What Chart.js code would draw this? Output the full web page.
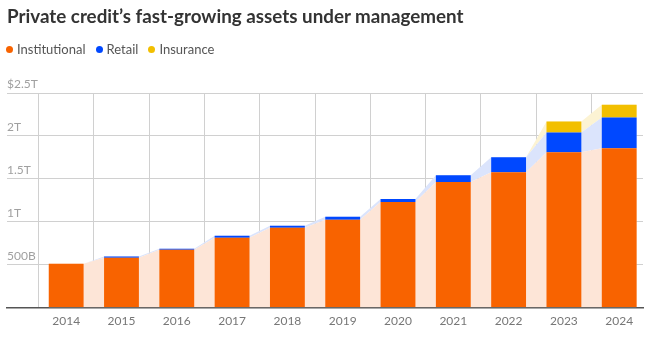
<!DOCTYPE html>
<html>
<head>
<meta charset="utf-8">
<title>Private credit assets under management</title>
<script src="https://cdn.jsdelivr.net/npm/chart.js@4.4.1/dist/chart.umd.min.js"></script>
<style>
  html, body { margin: 0; padding: 0; background: #fff; }
  #wrap { position: relative; width: 651px; height: 339px; font-family: Lato, "Noto Sans", sans-serif; }
  #aumChart { position: absolute; left: 0; top: 0; }
  .title {
    position: absolute; left: 7px; top: 4px; margin: 0;
    font-size: 18.8px; font-weight: bold; color: #333; line-height: 24px; white-space: nowrap;
  }
  .legend {
    position: absolute; left: 6px; top: 41px; display: flex; align-items: center;
    font-size: 13px; color: #555; line-height: 16px;
  }
  .legend span { display: flex; align-items: center; margin-right: 10px; }
  .legend i { display: inline-block; width: 7px; height: 7px; border-radius: 50%; margin-right: 4px; }
</style>
</head>
<body>
<div id="wrap">
  <canvas id="aumChart" width="651" height="339"></canvas>
  <h2 class="title">Private credit’s fast-growing assets under management</h2>
  <div class="legend" id="legend"></div>
</div>
<script>
// Datos (miles de millones de USD)
const years = ['2014', '2015', '2016', '2017', '2018', '2019', '2020', '2021', '2022', '2023', '2024'];
const institutional = [510, 582, 675, 814, 929, 1022, 1230, 1462, 1578, 1809, 1855];
const retail = [0, 13, 10, 22, 24, 35, 35, 81, 173, 231, 359];
const insurance = [0, 0, 0, 0, 0, 0, 0, 0, 0, 127, 150];
const yTicks = [0, 500, 1000, 1500, 2000, 2500];
const yTickLabels = ['', '500B', '1T', '1.5T', '2T', '$2.5T'];

const series = [
  { label: 'Institutional', values: institutional, color: '#f86300', area: '#fde5d7' },
  { label: 'Retail', values: retail, color: '#0048ff', area: '#dbe4fc' },
  { label: 'Insurance', values: insurance, color: '#f2bf00', area: '#fcf3d3' },
];

const BAR_FRACTION = 0.63;
const HALF = BAR_FRACTION / 2;

// barras en el eje lineal: un punto por año
const barPoints = (values) => values.map((v, i) => ({ x: i, y: v }));
// área sombreada: une el borde derecho de una barra con el izquierdo de la siguiente
const edgePoints = (values) =>
  values.flatMap((v, i) => [{ x: i - HALF, y: v }, { x: i + HALF, y: v }]);

// leyenda en HTML
document.getElementById('legend').innerHTML = series
  .map((s) => `<span><i style="background:${s.color}"></i>${s.label}</span>`)
  .join('');

Chart.defaults.font.family = 'Lato, "Noto Sans", sans-serif';

const barSets = series.map((s) => ({
  label: s.label, data: barPoints(s.values), backgroundColor: s.color, borderWidth: 0, order: 0,
}));
const areaSets = series.map((s, k) => ({
  type: 'line', label: s.label + ' area', data: edgePoints(s.values), stack: 'area',
  backgroundColor: s.area, borderWidth: 0, pointRadius: 0, fill: k === 0 ? 'origin' : '-1', order: 1,
}));

const ctx = document.getElementById('aumChart').getContext('2d');

new Chart(ctx, {
  type: 'bar',
  data: { datasets: [...barSets, ...areaSets] },
  options: {
    responsive: false,
    animation: false,
    layout: { padding: { left: 7, right: 8, top: 93, bottom: 5 } },
    datasets: {
      bar: { barPercentage: BAR_FRACTION, categoryPercentage: 1 },
    },
    plugins: {
      tooltip: { enabled: false },
      legend: { display: false },
    },
    scales: {
      x: {
        type: 'linear',
        stacked: true,
        offset: false,
        min: -1.07,
        max: years.length - 0.57,
        afterBuildTicks: (scale) => {
          scale.ticks = years.map((_, i) => ({ value: i }));
        },
        grid: { color: '#d0d0d0', drawTicks: false },
        border: { color: '#555', width: 1.5 },
        ticks: {
          color: '#777',
          font: { size: 12 },
          padding: 6,
          callback: (value) => years[value] ?? '',
        },
      },
      y: {
        stacked: true,
        min: 0,
        max: 2500,
        afterBuildTicks: (scale) => {
          scale.ticks = yTicks.map((v) => ({ value: v }));
        },
        grid: { color: '#d0d0d0', drawTicks: false },
        border: { display: false },
        ticks: {
          mirror: true,
          padding: 0,
          labelOffset: -8.5,
          color: '#a0a0a0',
          font: { size: 12 },
          callback: (value) => yTickLabels[yTicks.indexOf(value)],
        },
      },
    },
  },
});
</script>
</body>
</html>
